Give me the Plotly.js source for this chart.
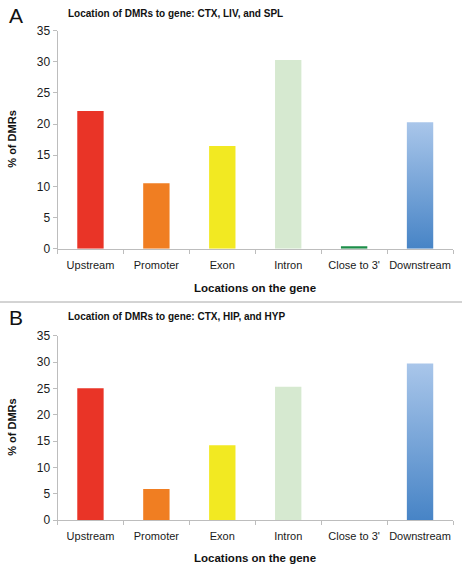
<!DOCTYPE html>
<html>
<head>
<meta charset="utf-8">
<script src="https://cdn.plot.ly/plotly-3.0.1.min.js"></script>
<style>
html,body{margin:0;padding:0;background:#fff;}
#chart{width:462px;height:574px;}
</style>
</head>
<body>
<div id="chart"></div>
<script>
// ---- data ----
const categories = ["Upstream", "Promoter", "Exon", "Intron", "Close to 3'", "Downstream"];
const valuesA = [22.1, 10.5, 16.5, 30.3, 0.4, 20.3];
const valuesB = [25.0, 5.9, 14.2, 25.3, 0, 29.7];
const yTicks = [0, 5, 10, 15, 20, 25, 30, 35];
const titleA = "Location of DMRs to gene: CTX, LIV, and SPL";
const titleB = "Location of DMRs to gene: CTX, HIP, and HYP";
const xTitle = "Locations on the gene";
const yTitle = "% of DMRs";
const barColors = ["#E93427", "#F07E22", "#F2E922", "#D6E9D0", "#1D8E49", "#78A6DA"];

const FONT = "Liberation Sans, Arial, sans-serif";
const W = 462, H = 574;
const px = v => v / W;
const py = v => 1 - v / H;

const xdom = [px(57.5), px(453)];
const ydomA = [py(248.7), py(30.7)];
const ydomB = [py(520), py(335.7)];

function xax(anchor) {
  return {
    type: 'category', domain: xdom, anchor: anchor, range: [-0.5, 5.5],
    showline: true, linecolor: '#BDBDBD', linewidth: 1,
    ticks: 'outside', tickson: 'boundaries', ticklen: 4, tickcolor: '#BDBDBD',
    tickangle: 0, automargin: false, ticklabelstandoff: 6,
    tickfont: {family: FONT, size: 11, color: '#1a1a1a'},
    showgrid: false, zeroline: false, fixedrange: true
  };
}
function yax(dom, anchor) {
  return {
    domain: dom, anchor: anchor, range: [0, 35], tickvals: yTicks,
    showline: true, linecolor: '#BDBDBD', linewidth: 1,
    ticks: 'outside', ticklen: 4, tickcolor: '#BDBDBD', automargin: false,
    tickfont: {family: FONT, size: 12, color: '#1a1a1a'},
    showgrid: false, zeroline: false, fixedrange: true
  };
}

const traces = [
  {type: 'bar', x: categories, y: valuesA, xaxis: 'x', yaxis: 'y',
   marker: {color: barColors, line: {width: 0}}, hoverinfo: 'x+y'},
  {type: 'bar', x: categories, y: valuesB, xaxis: 'x2', yaxis: 'y2',
   marker: {color: barColors, line: {width: 0}}, hoverinfo: 'x+y'}
];

const ann = (text, x, y, size, bold, extra) => Object.assign({
  text: bold ? '<b>' + text + '</b>' : text, xref: 'paper', yref: 'paper',
  x: x, y: y, showarrow: false, font: {family: FONT, size: size, color: '#111'}
}, extra || {});

const layout = {
  width: W, height: H, margin: {l: 0, r: 0, t: 0, b: 0},
  paper_bgcolor: '#fff', plot_bgcolor: '#fff', showlegend: false,
  bargap: 0.6,
  xaxis: xax('y'), yaxis: yax(ydomA, 'x'),
  xaxis2: xax('y2'), yaxis2: yax(ydomB, 'x2'),
  annotations: [
    ann('A', px(7), py(16), 21, false, {xanchor: 'left', yanchor: 'middle'}),
    ann(titleA, px(66), py(13), 10, true, {xanchor: 'left', yanchor: 'middle'}),
    ann(xTitle, px(255.25), py(287.5), 11.5, true, {xanchor: 'center', yanchor: 'middle'}),
    ann(yTitle, px(12), py(139.7), 11, true, {xanchor: 'center', yanchor: 'middle', textangle: -90}),
    ann('B', px(7), py(317), 21, false, {xanchor: 'left', yanchor: 'middle'}),
    ann(titleB, px(66), py(316), 10, true, {xanchor: 'left', yanchor: 'middle'}),
    ann(xTitle, px(255.25), py(558), 11.5, true, {xanchor: 'center', yanchor: 'middle'}),
    ann(yTitle, px(12), py(427.8), 11, true, {xanchor: 'center', yanchor: 'middle', textangle: -90})
  ],
  shapes: [
    {type: 'line', xref: 'paper', yref: 'paper', x0: 0, x1: 1, y0: py(302), y1: py(302),
     line: {color: '#A8A8A8', width: 1}}
  ]
};

Plotly.newPlot('chart', traces, layout, {displayModeBar: false, staticPlot: true}).then(function (gd) {
  const svg = gd.querySelector('svg.main-svg');
  let defs = svg.querySelector('defs');
  const NS = 'http://www.w3.org/2000/svg';
  if (!defs) { defs = document.createElementNS(NS, 'defs'); svg.insertBefore(defs, svg.firstChild); }
  const grad = document.createElementNS(NS, 'linearGradient');
  grad.setAttribute('id', 'dsGrad');
  grad.setAttribute('x1', '0'); grad.setAttribute('y1', '0');
  grad.setAttribute('x2', '0'); grad.setAttribute('y2', '1');
  [['0', '#A9C6EA'], ['1', '#4784C6']].forEach(function (s) {
    const st = document.createElementNS(NS, 'stop');
    st.setAttribute('offset', s[0]); st.setAttribute('stop-color', s[1]);
    grad.appendChild(st);
  });
  defs.appendChild(grad);
  gd.querySelectorAll('.barlayer .trace').forEach(function (tr) {
    const pts = tr.querySelectorAll('.point path');
    const idx = categories.indexOf('Downstream');
    if (pts[idx]) pts[idx].style.fill = 'url(#dsGrad)';
  });
});
</script>
</body>
</html>
